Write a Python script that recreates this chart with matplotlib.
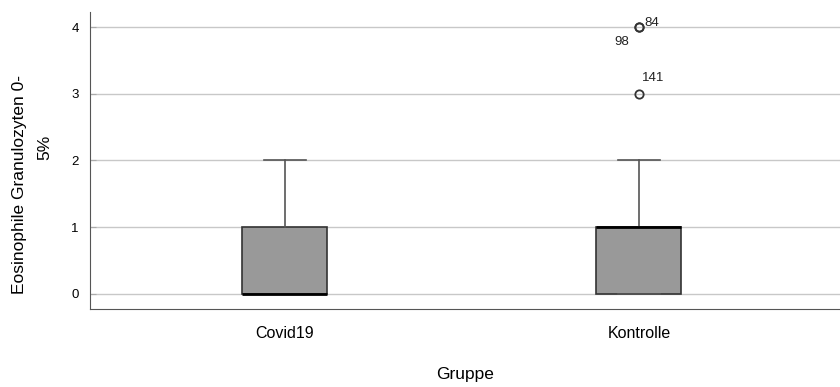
import matplotlib
matplotlib.use('Agg')
from matplotlib import pyplot

pyplot.rcParams['font.family'] = ['Liberation Sans', 'DejaVu Sans']

groups = ['Covid19', 'Kontrolle']
q1 = [0, 0]
med = [0, 1]
q3 = [1, 1]
whislo = [0, 0]
whishi = [2, 2]
fliers = [[], [4, 4, 3]]
flier_ids = ['84', '98', '141']
flier_vals = [4, 4, 3]

stats = []
for i in range(len(groups)):
    stats.append({'label': groups[i], 'q1': q1[i], 'med': med[i], 'q3': q3[i],
                  'whislo': whislo[i], 'whishi': whishi[i], 'fliers': fliers[i]})

W, H = 840, 387
fig = pyplot.figure(figsize=(8.4, 3.87), dpi=100)
ax = fig.add_axes([0.107, 0.2016, 0.893, 0.7674])

ax.bxp(stats, positions=[0, 1], widths=0.24, patch_artist=True,
       boxprops=dict(facecolor='#999999', edgecolor='#333333', linewidth=1.2),
       medianprops=dict(color='black', linewidth=2),
       whiskerprops=dict(color='#555555', linewidth=1.2),
       capprops=dict(color='#555555', linewidth=1.2),
       capwidths=0.12,
       flierprops=dict(marker='o', markerfacecolor='none', markeredgecolor='#333333',
                       markersize=6, markeredgewidth=1.3),
       zorder=3)

# outlier case numbers
offsets = [(4, 1), (-18, -13), (2, 9)]
for k in range(len(flier_ids)):
    ax.annotate(flier_ids[k], (1, flier_vals[k]), xytext=offsets[k],
                textcoords='offset points', fontsize=9.5, color='#222222')

ax.set_xlim(-0.551, 1.568)
ax.set_ylim(-0.225, 4.225)
ax.set_yticks([0, 1, 2, 3, 4])
ax.set_xticks([0, 1])
ax.set_xticklabels(groups, fontsize=11.5)
ax.tick_params(axis='y', labelsize=9.5, length=4, direction='in', color='#aaaaaa', pad=8)
ax.tick_params(axis='x', length=0, pad=12)
ax.yaxis.grid(True, color='#c8c8c8', linewidth=1)
ax.set_axisbelow(True)

for s in ['top', 'right']:
    ax.spines[s].set_visible(False)
ax.spines['left'].set_color('#555555')
ax.spines['bottom'].set_color('#555555')

# y label, two lines placed like the SPSS output
fig.text(20 / W, 1 - 184 / H, 'Eosinophile Granulozyten 0-', rotation=90,
         ha='center', va='center', fontsize=12.5)
fig.text(45 / W, 1 - 147 / H, '5%', rotation=90,
         ha='center', va='center', fontsize=12.5)
ax.set_xlabel('Gruppe', fontsize=12.5, labelpad=19)

pyplot.savefig('out.png', dpi=100)
